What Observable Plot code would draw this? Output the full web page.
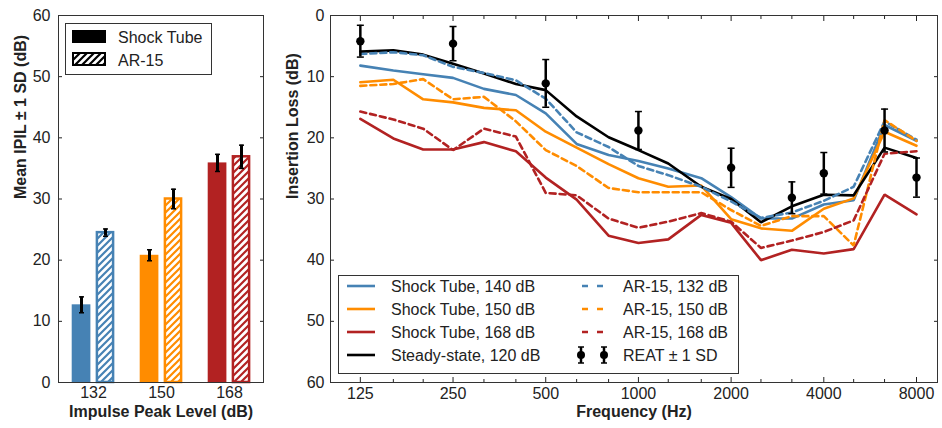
<!DOCTYPE html>
<html><head><meta charset="utf-8">
<script src="https://cdn.jsdelivr.net/npm/d3@7"></script>
<script src="https://cdn.jsdelivr.net/npm/@observablehq/plot@0.6"></script>
<style>
body{margin:0;background:#fff;}
#wrap{display:flex;width:942px;height:428px;overflow:hidden;}
#wrap svg{display:block;flex:none;}
</style></head><body><div id="wrap"></div>
<script>
// ---------- Left panel data ----------
const levels = ["132", "150", "168"];
const shockMean = [12.7, 20.8, 35.9];
const shockSD = [1.3, 0.9, 1.4];
const arMean = [24.5, 30.0, 36.9];
const arSD = [0.6, 1.6, 1.9];
const barTicks = [0, 10, 20, 30, 40, 50, 60];

// ---------- Right panel data ----------
const freqs = [125, 160, 200, 250, 315, 400, 500, 630, 800, 1000, 1250, 1600, 2000, 2500, 3150, 4000, 5000, 6300, 8000];
const shock140 = [8.2, 9.0, 9.6, 10.2, 12.0, 13.0, 16.0, 21.0, 22.8, 23.8, 25.0, 26.6, 29.7, 33.2, 33.2, 30.9, 30.2, 17.9, 20.5];
const shock150 = [10.9, 10.5, 13.7, 14.2, 15.1, 15.5, 19.0, 21.6, 24.3, 26.6, 28.0, 27.8, 33.3, 34.8, 35.2, 31.6, 29.9, 19.0, 21.3];
const shock168 = [16.9, 20.1, 21.9, 21.9, 20.7, 22.2, 26.5, 30.1, 36.0, 37.2, 36.6, 32.6, 33.9, 40.0, 38.3, 38.9, 38.2, 29.3, 32.5];
const steady120 = [5.9, 5.7, 6.4, 7.9, 9.5, 11.2, 12.2, 16.5, 19.9, 22.0, 24.2, 28.0, 30.0, 33.8, 31.2, 29.3, 29.4, 21.6, 23.3];
const ar132 = [6.3, 6.0, 6.5, 8.4, 9.4, 10.6, 13.6, 19.1, 21.5, 24.6, 26.1, 28.0, 30.4, 33.1, 32.2, 30.3, 28.0, 17.3, 20.3];
const ar150 = [11.5, 11.2, 10.4, 13.7, 13.3, 17.3, 22.0, 24.6, 28.2, 28.9, 28.9, 28.9, 31.8, 34.4, 32.8, 32.8, 37.6, 17.1, 20.5];
const ar168 = [15.7, 17.0, 18.5, 22.0, 18.5, 19.8, 29.0, 29.4, 33.2, 34.7, 33.7, 32.3, 33.7, 38.0, 36.8, 35.4, 33.5, 22.6, 22.2];
const reatFreqs = [125, 250, 500, 1000, 2000, 3150, 4000, 6300, 8000];
const reatMean = [4.2, 4.6, 11.1, 18.8, 24.9, 29.8, 25.8, 18.8, 26.5];
const reatSD = [2.6, 2.8, 3.9, 3.1, 3.2, 2.6, 3.4, 3.5, 3.2];
const freqMajor = [125, 250, 500, 1000, 2000, 4000, 8000];
const freqMinor = [160, 200, 315, 400, 630, 800, 1250, 1600, 2500, 3150, 5000, 6300];
const lossTicks = [0, 10, 20, 30, 40, 50, 60];

// ---------- styling ----------
const FONT = '"Liberation Sans", Arial, Helvetica, sans-serif';
const FS = 16;
const BLUE = "#4682b4", ORANGE = "#ff8c00", RED = "#b22222", BLACK = "#000";
const levelColor = {"132": BLUE, "150": ORANGE, "168": RED};
const H = 428;
const baseStyle = {fontFamily: FONT, fontSize: FS + "px", color: "#222", background: "white", overflow: "visible"};
const hcap = {draw(ctx, size) { const w = Math.sqrt(size / Math.PI); ctx.moveTo(-w, 0); ctx.lineTo(w, 0); }};

// ---------- Left panel ----------
const shockRows = levels.map((g, i) => ({g, v: shockMean[i], lo: shockMean[i] - shockSD[i], hi: shockMean[i] + shockSD[i]}));
const arRows = levels.map((g, i) => ({g, v: arMean[i], lo: arMean[i] - arSD[i], hi: arMean[i] + arSD[i]}));

const left = Plot.plot({
  width: 280, height: H,
  marginLeft: 58, marginRight: 17, marginTop: 15, marginBottom: 46,
  style: baseStyle,
  x: {type: "band", domain: levels, padding: 0, label: null},
  y: {domain: [0, 60], label: null},
  color: {type: "identity"},
  marks: [
    Plot.barY(shockRows, {x: "g", y: "v", fill: d => levelColor[d.g], insetLeft: 12.7, insetRight: 36.6}),
    Plot.barY(arRows, {x: "g", y: "v", fill: d => `url(#hatch${d.g})`, stroke: d => levelColor[d.g], strokeWidth: 2.5, insetLeft: 37.9, insetRight: 13.9}),
    Plot.ruleX(shockRows, {x: "g", y1: "lo", y2: "hi", dx: -12, stroke: BLACK, strokeWidth: 3}),
    Plot.ruleX(arRows, {x: "g", y1: "lo", y2: "hi", dx: 12, stroke: BLACK, strokeWidth: 3}),
    Plot.dot(shockRows, {x: "g", y: "lo", dx: -12, symbol: hcap, r: 2.5, fill: "none", stroke: BLACK, strokeWidth: 1.5}),
    Plot.dot(shockRows, {x: "g", y: "hi", dx: -12, symbol: hcap, r: 2.5, fill: "none", stroke: BLACK, strokeWidth: 1.5}),
    Plot.dot(arRows, {x: "g", y: "lo", dx: 12, symbol: hcap, r: 2.5, fill: "none", stroke: BLACK, strokeWidth: 1.5}),
    Plot.dot(arRows, {x: "g", y: "hi", dx: 12, symbol: hcap, r: 2.5, fill: "none", stroke: BLACK, strokeWidth: 1.5}),
    Plot.axisY({ticks: barTicks, tickSize: 0, tickPadding: 8, tickFormat: d => String(d), label: null}),
    Plot.axisY({ticks: barTicks, tickSize: -4, tickFormat: () => "", label: null}),
    Plot.axisY({anchor: "right", ticks: barTicks, tickSize: -4, tickFormat: () => "", label: null}),
    Plot.axisX({tickSize: 0, tickPadding: 4, label: null}),
    Plot.frame({stroke: "#333"}),
    Plot.text(["Mean IPIL \u00b1 1 SD (dB)"], {text: d => d, frameAnchor: "left", rotate: -90, dx: -38, fontWeight: "bold", fontSize: FS, fill: "#222"}),
    Plot.text(["Impulse Peak Level (dB)"], {text: d => d, frameAnchor: "bottom", dy: 29, lineAnchor: "middle", fontWeight: "bold", fontSize: FS, fill: "#222"})
  ]
});

function addHatch(svg, id, color) {
  let defs = d3.select(svg).select("defs.hatches");
  if (defs.empty()) defs = d3.select(svg).insert("defs", ":first-child").attr("class", "hatches");
  const p = defs.append("pattern").attr("id", id).attr("patternUnits", "userSpaceOnUse").attr("width", 7).attr("height", 7);
  p.append("rect").attr("width", 7).attr("height", 7).attr("fill", "white");
  p.append("path").attr("d", "M-1,1 l2,-2 M0,7 l7,-7 M6,8 l2,-2").attr("stroke", color).attr("stroke-width", 2.2);
}
levels.forEach(g => addHatch(left, "hatch" + g, levelColor[g]));
addHatch(left, "hatchBlack", BLACK);

// left legend
{
  const g = d3.select(left).append("g").attr("font-family", FONT).attr("font-size", FS).attr("fill", "#222").attr("text-anchor", "start");
  g.append("rect").attr("x", 65.5).attr("y", 23.5).attr("width", 146).attr("height", 51).attr("fill", "white").attr("stroke", "#333");
  g.append("rect").attr("x", 72).attr("y", 30).attr("width", 34).attr("height", 13).attr("fill", BLACK);
  g.append("rect").attr("x", 73).attr("y", 53).attr("width", 32).attr("height", 12).attr("fill", "url(#hatchBlack)").attr("stroke", BLACK).attr("stroke-width", 2);
  g.append("text").attr("x", 118).attr("y", 37).attr("dy", "0.35em").text("Shock Tube");
  g.append("text").attr("x", 118).attr("y", 60).attr("dy", "0.35em").text("AR-15");
}

// ---------- Right panel ----------
function rows(vals, name) { return freqs.map((f, i) => ({f, v: vals[i], name})); }
const series = [
  {name: "Shock Tube, 140 dB", vals: shock140, color: BLUE, dash: null},
  {name: "Shock Tube, 150 dB", vals: shock150, color: ORANGE, dash: null},
  {name: "Shock Tube, 168 dB", vals: shock168, color: RED, dash: null},
  {name: "Steady-state, 120 dB", vals: steady120, color: BLACK, dash: null},
  {name: "AR-15, 132 dB", vals: ar132, color: BLUE, dash: "6,4"},
  {name: "AR-15, 150 dB", vals: ar150, color: ORANGE, dash: "6,4"},
  {name: "AR-15, 168 dB", vals: ar168, color: RED, dash: "6,4"}
];
const reat = reatFreqs.map((f, i) => ({f, v: reatMean[i], lo: reatMean[i] - reatSD[i], hi: reatMean[i] + reatSD[i]}));

const right = Plot.plot({
  width: 662, height: H,
  marginLeft: 50, marginRight: 5, marginTop: 15, marginBottom: 46,
  style: baseStyle,
  x: {type: "log", domain: [100, 9360], label: null},
  y: {domain: [0, 60], reverse: true, label: null},
  marks: [
    ...series.map(s => Plot.line(rows(s.vals, s.name), {x: "f", y: "v", stroke: s.color, strokeWidth: 2.6, strokeDasharray: s.dash, strokeLinejoin: "miter"})),
    Plot.ruleX(reat, {x: "f", y1: "lo", y2: "hi", stroke: BLACK, strokeWidth: 2.5}),
    Plot.dot(reat, {x: "f", y: "lo", symbol: hcap, r: 3.5, fill: "none", stroke: BLACK, strokeWidth: 1.5}),
    Plot.dot(reat, {x: "f", y: "hi", symbol: hcap, r: 3.5, fill: "none", stroke: BLACK, strokeWidth: 1.5}),
    Plot.dot(reat, {x: "f", y: "v", r: 4.2, fill: BLACK}),
    Plot.axisY({ticks: lossTicks, tickSize: 0, tickPadding: 6, tickFormat: d => String(d), label: null}),
    Plot.axisY({ticks: lossTicks, tickSize: -4, tickFormat: () => "", label: null}),
    Plot.axisY({anchor: "right", ticks: lossTicks, tickSize: -4, tickFormat: () => "", label: null}),
    Plot.text(freqMajor, {x: d => d, text: d => String(d), frameAnchor: "bottom", dy: 11, lineAnchor: "middle", fill: "#222", fontSize: FS}),
    Plot.axisX({ticks: freqMajor, tickSize: -5, tickFormat: () => "", label: null}),
    Plot.axisX({anchor: "top", ticks: freqMajor, tickSize: -5, tickFormat: () => "", label: null}),
    Plot.axisX({ticks: freqMinor, tickSize: -3, tickFormat: () => "", label: null}),
    Plot.axisX({anchor: "top", ticks: freqMinor, tickSize: -3, tickFormat: () => "", label: null}),
    Plot.frame({stroke: "#333"}),
    Plot.text(["Insertion Loss (dB)"], {text: d => d, frameAnchor: "left", rotate: -90, dx: -38, fontWeight: "bold", fontSize: FS, fill: "#222"}),
    Plot.text(["Frequency (Hz)"], {text: d => d, frameAnchor: "bottom", dy: 29, lineAnchor: "middle", fontWeight: "bold", fontSize: FS, fill: "#222"})
  ]
});

// right legend (positions relative to right svg; it starts at x=280)
{
  const g = d3.select(right).append("g").attr("font-family", FONT).attr("font-size", FS).attr("fill", "#222").attr("text-anchor", "start");
  g.append("rect").attr("x", 58.5).attr("y", 275.5).attr("width", 400).attr("height", 98).attr("fill", "white").attr("stroke", "#333");
  const rowsY = [286, 309, 332, 355];
  series.forEach((s, i) => {
    const col = i < 4 ? 0 : 1;
    const row = i < 4 ? i : i - 4;
    const y = rowsY[row];
    if (col === 0) {
      g.append("line").attr("x1", 67).attr("x2", 95).attr("y1", y).attr("y2", y).attr("stroke", s.color).attr("stroke-width", 2.6);
      g.append("text").attr("x", 111).attr("y", y).attr("dy", "0.35em").text(s.name);
    } else {
      g.append("line").attr("x1", 302).attr("x2", 323).attr("y1", y).attr("y2", y).attr("stroke", s.color).attr("stroke-width", 2.6).attr("stroke-dasharray", "6,9");
      g.append("text").attr("x", 343).attr("y", y).attr("dy", "0.35em").text(s.name);
    }
  });
  const y = rowsY[3];
  [301, 324].forEach(x => {
    g.append("line").attr("x1", x).attr("x2", x).attr("y1", y - 8).attr("y2", y + 8).attr("stroke", BLACK).attr("stroke-width", 2.5);
    g.append("line").attr("x1", x - 3).attr("x2", x + 3).attr("y1", y - 8).attr("y2", y - 8).attr("stroke", BLACK).attr("stroke-width", 1.5);
    g.append("line").attr("x1", x - 3).attr("x2", x + 3).attr("y1", y + 8).attr("y2", y + 8).attr("stroke", BLACK).attr("stroke-width", 1.5);
    g.append("circle").attr("cx", x).attr("cy", y).attr("r", 4).attr("fill", BLACK);
  });
  g.append("text").attr("x", 343).attr("y", y).attr("dy", "0.35em").text("REAT \u00b1 1 SD");
}

document.getElementById("wrap").append(left, right);
</script></body></html>
